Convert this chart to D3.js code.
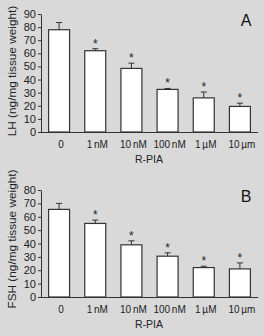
<!DOCTYPE html>
<html>
<head>
<meta charset="utf-8">
<script src="https://cdn.jsdelivr.net/npm/d3@7"></script>
<style>
  html, body { margin: 0; padding: 0; background: #d9d9d9; }
  svg { display: block; font-family: "Liberation Sans", Arial, sans-serif; }
</style>
</head>
<body>
<div id="chart"></div>
<script>
const doses= ['0', '1 nM', '10 nM', '100 nM', '1 µM', '10 µm'];
const lhMean= [78, 62, 48.5, 32.5, 26, 19.5];
const lhErr= [5.5, 1.5, 4, 0.7, 4.5, 2.5];
const lhSig= [false, true, true, true, true, true];
const fshMean= [65.5, 55, 39, 30.5, 22, 21];
const fshErr= [4.5, 2.5, 3, 2.5, 1, 4.5];
const fshSig= [false, true, true, true, true, true];
const lhTicks= d3.range(0, 91, 10);
const fshTicks= d3.range(0, 81, 10);

const svg= d3.select('#chart').append('svg')
  .attr('width', 264).attr('height', 336);

function panel(top, bottom, yMax, ticks, mean, err, sig, yLabel, letter, labelY) {
  const x= d3.scaleBand().domain(doses).range([41, 258])
    .paddingInner(0.42).paddingOuter(0.21);
  const y= d3.scaleLinear().domain([0, yMax]).range([bottom, top]);
  const g= svg.append('g');

  g.append('g')
    .attr('transform', 'translate(41,0)')
    .call(d3.axisLeft(y).tickValues(ticks).tickSize(3).tickPadding(2).tickSizeOuter(0))
    .call(a => a.selectAll('text').attr('font-size', 11).attr('fill', '#222'))
    .call(a => a.selectAll('line, path').attr('stroke', '#333'));

  g.append('g')
    .attr('transform', `translate(0,${bottom})`)
    .call(d3.axisBottom(x).tickSize(0).tickPadding(9).tickSizeOuter(0))
    .call(a => a.select('.domain').attr('d', `M41,0.5H258`).attr('stroke', '#333'))
    .call(a => a.selectAll('text').attr('font-size', 10).attr('fill', '#222')
      .attr('dx', 2).attr('word-spacing', -1));

  const bars= g.selectAll('.bar').data(doses).join('g');
  bars.append('rect')
    .attr('x', d => x(d))
    .attr('y', (d, i) => y(mean[i]))
    .attr('width', x.bandwidth())
    .attr('height', (d, i) => bottom - y(mean[i]))
    .attr('fill', '#fff').attr('stroke', '#333').attr('stroke-width', 1.2);
  const cx= d => x(d) + x.bandwidth() / 2;
  bars.append('line')
    .attr('x1', cx).attr('x2', cx)
    .attr('y1', (d, i) => y(mean[i])).attr('y2', (d, i) => y(mean[i] + err[i]))
    .attr('stroke', '#333');
  bars.append('line')
    .attr('x1', d => cx(d) - 3).attr('x2', d => cx(d) + 3)
    .attr('y1', (d, i) => y(mean[i] + err[i])).attr('y2', (d, i) => y(mean[i] + err[i]))
    .attr('stroke', '#333');
  bars.filter((d, i) => sig[i]).append('text')
    .attr('x', cx)
    .attr('y', d => y(mean[doses.indexOf(d)] + err[doses.indexOf(d)]) - 1)
    .attr('text-anchor', 'middle').attr('font-size', 12).attr('fill', '#222')
    .text('*');

  g.append('text')
    .attr('transform', `translate(16,${labelY}) rotate(-90)`)
    .attr('text-anchor', 'middle').attr('font-size', 11.8).attr('fill', '#222')
    .text(yLabel);
  g.append('text')
    .attr('x', 149).attr('y', bottom + 31)
    .attr('text-anchor', 'middle').attr('font-size', 10.5).attr('fill', '#222')
    .text('R-PIA');
  g.append('text')
    .attr('x', 246).attr('y', top + 12)
    .attr('text-anchor', 'middle').attr('font-size', 16).attr('fill', '#111')
    .text(letter);
}

panel(14, 132, 90, lhTicks, lhMean, lhErr, lhSig, 'LH (ng/mg tissue weight)', 'A', 71);
panel(190, 297, 80, fshTicks, fshMean, fshErr, fshSig, 'FSH (ng/mg tissue weight)', 'B', 239);
</script>
</body>
</html>
